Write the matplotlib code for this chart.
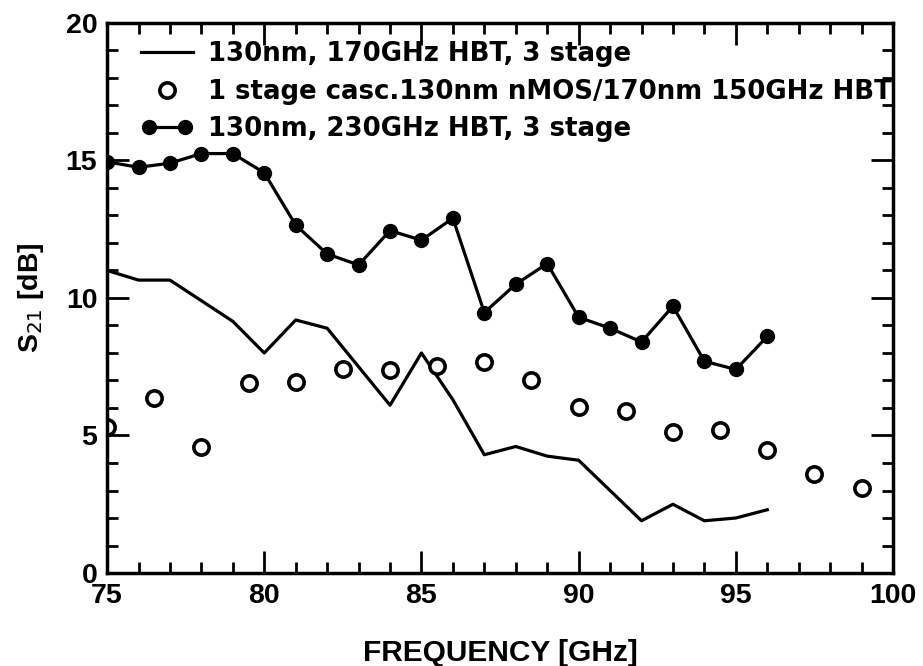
import numpy as np
import matplotlib.pyplot as plt
from matplotlib.ticker import MultipleLocator
from matplotlib.legend_handler import HandlerLine2D

# 130nm, 170GHz HBT, 3 stage
f_170 = [75, 76, 77, 78, 79, 80, 81, 82, 83, 84, 85, 86, 87, 88, 89, 90, 91, 92, 93, 94, 95, 96]
s21_170 = [11.0, 10.65, 10.65, 9.9, 9.15, 8.0, 9.2, 8.9, 7.5, 6.1, 8.0, 6.3, 4.3, 4.6, 4.25, 4.1, 3.0, 1.9, 2.5, 1.9, 2.0, 2.3]

# 1 stage cascode 150GHz HBT
f_150 = [75, 76.5, 78, 79.5, 81, 82.5, 84, 85.5, 87, 88.5, 90, 91.5, 93, 94.5, 96, 97.5, 99]
s21_150 = [5.3, 6.35, 4.57, 6.92, 6.96, 7.42, 7.38, 7.53, 7.66, 7.0, 6.02, 5.9, 5.14, 5.2, 4.47, 3.59, 3.08]

# 130nm, 230GHz HBT, 3 stage
f_230 = [75, 76, 77, 78, 79, 80, 81, 82, 83, 84, 85, 86, 87, 88, 89, 90, 91, 92, 93, 94, 95, 96]
s21_230 = [14.95, 14.75, 14.9, 15.25, 15.25, 14.55, 12.65, 11.6, 11.2, 12.45, 12.1, 12.9, 9.47, 10.5, 11.25, 9.3, 8.9, 8.4, 9.7, 7.7, 7.4, 8.6]

fig = plt.figure(figsize=(9.23, 6.66), dpi=100)
ax = fig.add_axes([0.116, 0.1396, 0.8515, 0.826])

ax.plot(f_170, s21_170, color='black', lw=2.3,
        label='130nm, 170GHz HBT, 3 stage')
ax.plot(f_150, s21_150, ls='none', marker='o', ms=11, mfc='white', mec='black', mew=2.6,
        label='1 stage casc.130nm nMOS/170nm 150GHz HBT')
l3, = ax.plot(f_230, s21_230, color='black', lw=2.3, marker='o', ms=10, mfc='black', mec='black',
              label='130nm, 230GHz HBT, 3 stage')

ax.set_xlim(75, 100)
ax.set_ylim(0, 20)
ax.xaxis.set_major_locator(MultipleLocator(5))
ax.xaxis.set_minor_locator(MultipleLocator(1))
ax.yaxis.set_major_locator(MultipleLocator(5))
ax.yaxis.set_minor_locator(MultipleLocator(1))
ax.tick_params(which='both', direction='in', top=True, right=True, width=2)
ax.tick_params(which='major', length=16)
ax.tick_params(which='minor', length=8)
for sp in ax.spines.values():
    sp.set_linewidth(2.5)

tick_font = {'family': ['Liberation Sans'], 'weight': 'bold', 'size': 20.5}
for lab in ax.get_xticklabels() + ax.get_yticklabels():
    lab.set_fontproperties(tick_font)
ax.tick_params(axis='x', pad=7)
ax.tick_params(axis='y', pad=7)

label_font = {'family': ['Liberation Sans'], 'weight': 'bold', 'size': 21.5}
ax.set_xlabel('FREQUENCY [GHz]', fontdict=label_font, labelpad=22)
ax.set_ylabel('S$_{21}$ [dB]', fontdict=tick_font, labelpad=14)

leg = ax.legend(loc='upper left', bbox_to_anchor=(0.02, 1.0), frameon=False,
                prop={'family': 'DejaVu Sans', 'weight': 'bold', 'size': 18.7},
                handlelength=2.0, handletextpad=0.6, labelspacing=0.45,
                borderaxespad=0.3, numpoints=1,
                handler_map={l3: HandlerLine2D(numpoints=2)})

fig.savefig('out.png', dpi=100)
